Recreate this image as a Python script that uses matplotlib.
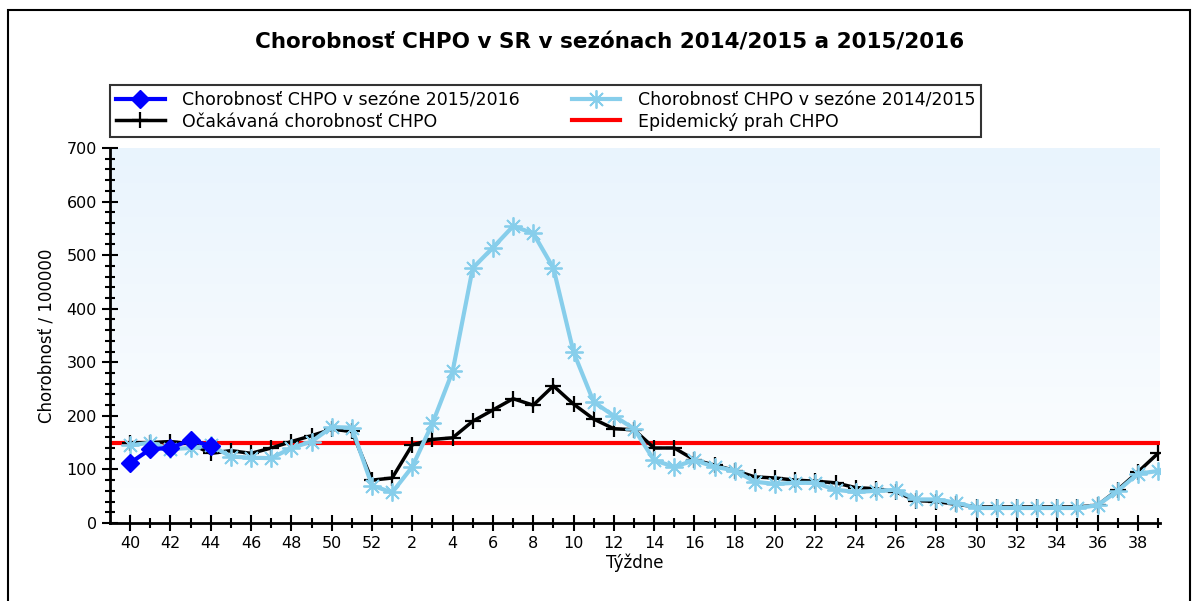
import numpy as np
import matplotlib.pyplot as plt
from matplotlib.colors import LinearSegmentedColormap
from matplotlib.patches import Rectangle

# weeks of the season (40..52, then 1..39)
weeks = list(range(40, 53)) + list(range(1, 40))

season_2015_16 = [112, 138, 140, 155, 144]

season_2014_15 = [145, 150, 138, 140, 145, 124, 122, 121, 140, 152,
                  179, 178, 70, 57, 105, 186, 283, 476, 514, 554,
                  541, 476, 319, 226, 200, 176, 117, 105, 117, 105,
                  98, 77, 73, 75, 75, 62, 58, 60, 62, 44,
                  44, 38, 28, 28, 28, 28, 28, 28, 33, 60,
                  92, 97]

expected = [150, 150, 152, 148, 130, 135, 130, 140, 152, 163,
            175, 171, 80, 84, 146, 156, 159, 190, 211, 232,
            220, 256, 222, 194, 176, 174, 140, 140, 118, 108,
            98, 86, 84, 80, 78, 75, 66, 64, 58, 42,
            40, 35, 30, 30, 30, 30, 30, 30, 33, 62,
            95, 130]

threshold = 150

labels = ['Chorobnosť CHPO v sezóne 2015/2016',
          'Očakávaná chorobnosť CHPO',
          'Chorobnosť CHPO v sezóne 2014/2015',
          'Epidemický prah CHPO']

x = np.arange(len(weeks))

fig = plt.figure(figsize=(11.97, 6.01), dpi=100)
ax = fig.add_axes([110/1197, 1 - 523/601, 1050/1197, 375/601])

# light blue -> white background
cmap = LinearSegmentedColormap.from_list('bg', ['#ffffff', '#e9f4fd'])
ax.imshow(np.linspace(0, 1, 256).reshape(-1, 1), cmap=cmap, origin='lower',
          aspect='auto', extent=[0, 1, 0, 1], transform=ax.transAxes, zorder=0)

h_red = ax.axhline(threshold, color='#ff0000', lw=3, zorder=2)
h_blk, = ax.plot(x, expected, color='black', lw=2.5, marker='+', ms=12, mew=1.6, zorder=3)
h_lb, = ax.plot(x, season_2014_15, color='#87ceeb', lw=3, marker=(8, 2, 0), ms=13, mew=1.3, zorder=4)
h_blue, = ax.plot(x[:len(season_2015_16)], season_2015_16, color='#0000ff', lw=3,
                  marker='D', ms=9, zorder=5)

ax.set_xlim(-1, 51.1)
ax.set_ylim(0, 700)
ax.set_xticks(x[::2])
ax.set_xticklabels([str(w) for w in weeks[::2]])
ax.set_xticks(x, minor=True)
ax.set_yticks(np.arange(0, 701, 100))
ax.set_yticks(np.arange(0, 701, 20), minor=True)
ax.tick_params(which='major', direction='inout', length=12, width=1.5, labelsize=11.5)
ax.tick_params(which='minor', direction='inout', length=7, width=1.5)
for s in ['top', 'right']:
    ax.spines[s].set_visible(False)
for s in ['left', 'bottom']:
    ax.spines[s].set_linewidth(2)

ax.set_xlabel('Týždne', fontsize=12, labelpad=2)
ax.set_ylabel('Chorobnosť / 100000', fontsize=12, labelpad=8)

fig.text(610/1197, 1 - 42/601, 'Chorobnosť CHPO v SR v sezónach 2014/2015 a 2015/2016',
         ha='center', va='center', fontsize=15.5, fontweight='bold')

leg = fig.legend([h_blue, h_blk, h_lb, h_red], labels, ncol=2,
                 loc='upper left', bbox_to_anchor=(110/1197, 1 - 85/601),
                 fontsize=12.5, frameon=True, fancybox=False, edgecolor='black',
                 handlelength=2.8, columnspacing=3.0, borderpad=0.35,
                 labelspacing=0.2, handletextpad=1.0, borderaxespad=0)
leg.get_frame().set_linewidth(1.5)

fig.patches.append(Rectangle((8/1197, -0.05), 1182/1197, 1.05 - 10/601,
                             transform=fig.transFigure, fill=False,
                             edgecolor='black', lw=1.5))

plt.savefig('out.png', dpi=100)
